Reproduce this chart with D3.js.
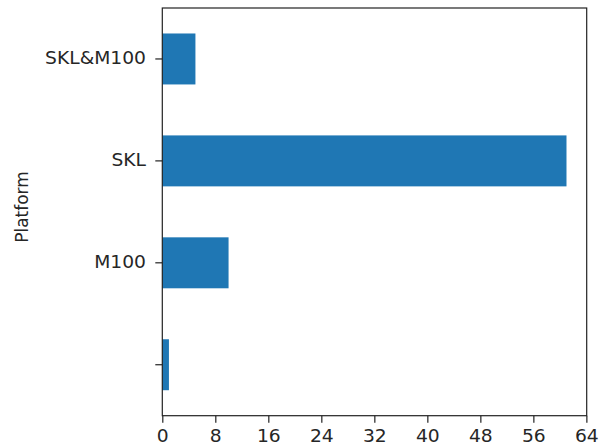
<!DOCTYPE html>
<html>
<head>
<meta charset="utf-8">
<script src="https://cdn.jsdelivr.net/npm/d3@7"></script>
<style>
  html, body { margin: 0; padding: 0; background: #fff; }
  svg { display: block; }
  text { font-family: "DejaVu Sans", sans-serif; fill: #262626; }
</style>
</head>
<body>
<script>
const categories = ["", "M100", "SKL", "SKL&M100"];
const values = [1, 10, 61, 5];
const xTicks = [0, 8, 16, 24, 32, 40, 48, 56, 64];
const yLabel = "Platform";

(function () {
const W = 599, H = 446;
const mLeft = 162.3, mRight = 586.7, mTop = 8, mBottom = 415.7;
const sx = 1.1;

const svg = d3.select("body").append("svg").attr("width", W).attr("height", H);

const x = d3.scaleLinear().domain([0, 64.05]).range([mLeft, mRight]);
const y = d3.scaleBand().domain(categories).range([mBottom, mTop]).paddingInner(0.5).paddingOuter(0.25);

svg.append("g").selectAll("rect")
  .data(categories.map((c, i) => ({c, v: values[i]})))
  .join("rect")
  .attr("x", x(0))
  .attr("y", d => y(d.c))
  .attr("width", d => x(d.v) - x(0))
  .attr("height", y.bandwidth())
  .attr("fill", "#1f77b4");

const xAxis = svg.append("g").attr("transform", `translate(0,${mBottom})`)
  .call(d3.axisBottom(x).tickValues(xTicks).tickSize(7).tickFormat(d3.format("d")));
const yAxis = svg.append("g").attr("transform", `translate(${mLeft},0)`)
  .call(d3.axisLeft(y).tickSize(7));

[xAxis, yAxis].forEach(g => {
  g.select(".domain").remove();
  g.selectAll("line").attr("stroke", "#222").attr("stroke-width", 1.2);
  g.selectAll("text").style("font-size", "17px").attr("fill", "#262626")
    .attr("transform", `scale(${sx},1)`);
});
xAxis.selectAll("text").attr("y", 14.2);
yAxis.selectAll("text").attr("x", -16.3 / sx);

svg.append("rect")
  .attr("x", mLeft).attr("y", mTop)
  .attr("width", mRight - mLeft).attr("height", mBottom - mTop)
  .attr("fill", "none").attr("stroke", "#222").attr("stroke-width", 1.2);

svg.append("text")
  .attr("transform", `translate(27.5,207) rotate(-90)`)
  .attr("text-anchor", "middle")
  .style("font-size", "17px")
  .text(yLabel);
})();
</script>
</body>
</html>
